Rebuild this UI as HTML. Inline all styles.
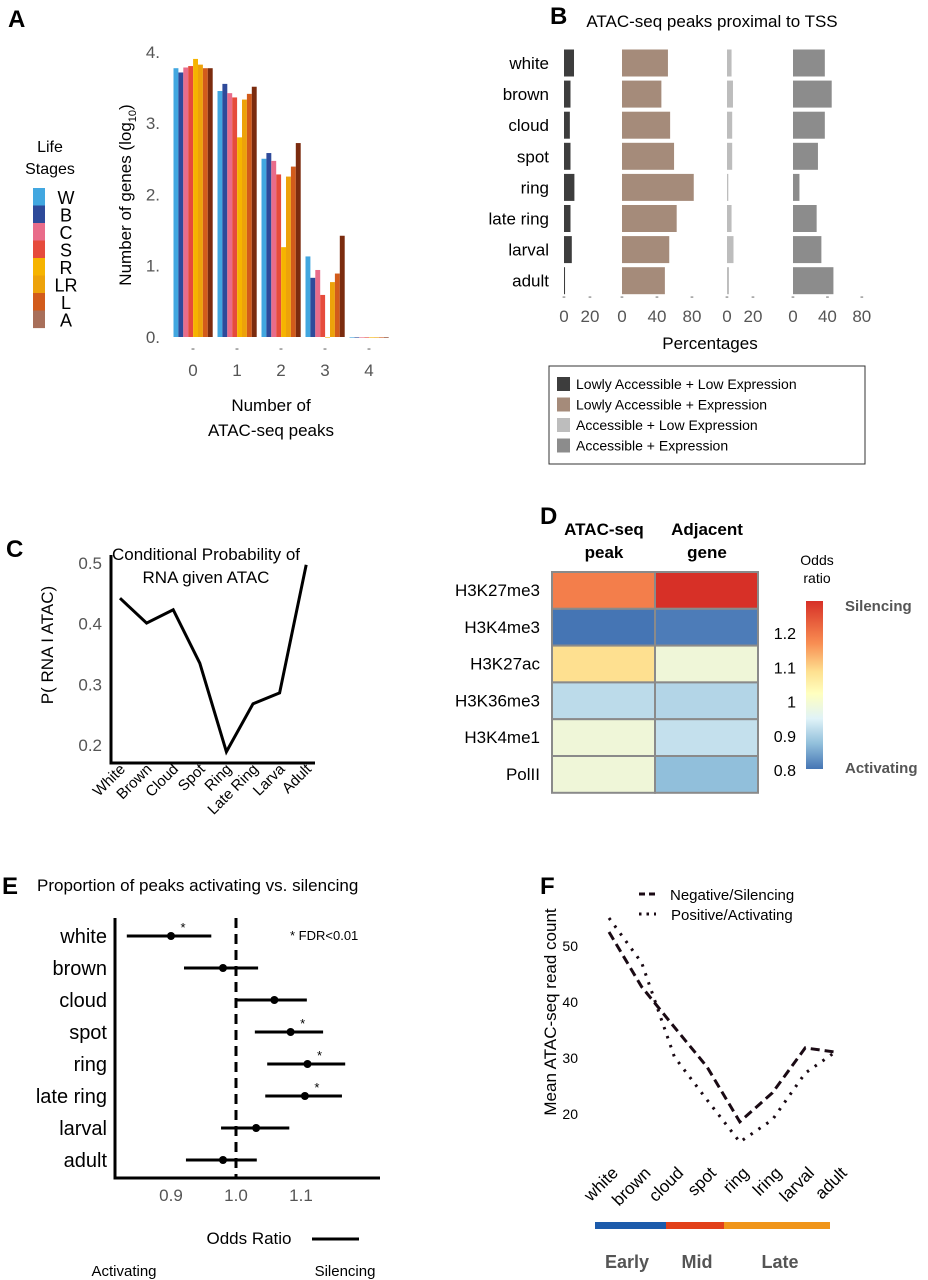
<!DOCTYPE html>
<html><head><meta charset="utf-8"><style>
html,body{margin:0;padding:0;background:#fff}
svg{display:block;font-family:"Liberation Sans",Arial,sans-serif}
</style></head><body>
<svg id="fig" width="928" height="1280" viewBox="0 0 928 1280">
<g id="pA">
<text x="8" y="27" font-size="24" font-weight="bold">A</text>
<text x="50" y="152" font-size="16" text-anchor="middle">Life</text>
<text x="50" y="174" font-size="16" text-anchor="middle">Stages</text>
<text transform="translate(131,195) rotate(-90)" font-size="17" text-anchor="middle">Number of genes (log<tspan font-size="11" dy="5">10</tspan><tspan dy="-5">)</tspan></text>
<text x="271" y="411" font-size="17" text-anchor="middle">Number of</text>
<text x="271" y="436" font-size="17" text-anchor="middle">ATAC-seq peaks</text>
</g>
<g id="pB">
<text x="550" y="24" font-size="24" font-weight="bold">B</text>
<text x="712" y="27" font-size="17" text-anchor="middle">ATAC-seq peaks proximal to TSS</text>
<text x="710" y="349" font-size="17" text-anchor="middle">Percentages</text>
<rect x="549" y="366" width="316" height="98" fill="#fff" stroke="#333" stroke-width="1"/>
</g>
<g id="pC">
<text x="6" y="557" font-size="24" font-weight="bold">C</text>
<text x="206" y="560" font-size="17" text-anchor="middle">Conditional Probability of</text>
<text x="206" y="583" font-size="17" text-anchor="middle">RNA given ATAC</text>
<text transform="translate(53,645) rotate(-90)" font-size="17" text-anchor="middle">P( RNA I ATAC)</text>
</g>
<g id="pD">
<text x="540" y="524" font-size="24" font-weight="bold">D</text>
<text x="604" y="535" font-size="17" font-weight="bold" text-anchor="middle">ATAC-seq</text>
<text x="604" y="558" font-size="17" font-weight="bold" text-anchor="middle">peak</text>
<text x="707" y="535" font-size="17" font-weight="bold" text-anchor="middle">Adjacent</text>
<text x="707" y="558" font-size="17" font-weight="bold" text-anchor="middle">gene</text>
<text x="817" y="565" font-size="14" text-anchor="middle">Odds</text>
<text x="817" y="583" font-size="14" text-anchor="middle">ratio</text>
<defs><linearGradient id="cb" x1="0" y1="0" x2="0" y2="1">
<stop offset="0" stop-color="#d73027"/><stop offset="0.25" stop-color="#f88d52"/><stop offset="0.42" stop-color="#fee090"/><stop offset="0.55" stop-color="#ffffbf"/><stop offset="0.7" stop-color="#e0f3f8"/><stop offset="0.85" stop-color="#91bfdb"/><stop offset="1" stop-color="#4575b4"/></linearGradient></defs>
<rect x="806" y="601" width="17" height="168" fill="url(#cb)"/>
<text x="845" y="611" font-size="15" font-weight="bold" fill="#555">Silencing</text>
<text x="845" y="773" font-size="15" font-weight="bold" fill="#555">Activating</text>
</g>
<g id="pE">
<text x="2" y="894" font-size="24" font-weight="bold">E</text>
<text x="37" y="891" font-size="17">Proportion of peaks activating vs. silencing</text>
<text x="290" y="940" font-size="13">* FDR&lt;0.01</text>
<text x="249" y="1244" font-size="17" text-anchor="middle">Odds Ratio</text>
<line x1="312" y1="1239" x2="359" y2="1239" stroke="#000" stroke-width="3"/>
<text x="124" y="1276" font-size="15" text-anchor="middle">Activating</text>
<text x="345" y="1276" font-size="15" text-anchor="middle">Silencing</text>
</g>
<g id="pF">
<text x="540" y="894" font-size="24" font-weight="bold">F</text>
<text transform="translate(556,1012) rotate(-90)" font-size="17" text-anchor="middle">Mean ATAC-seq read count</text>
<line x1="639" y1="894" x2="656" y2="894" stroke="#1a0a14" stroke-width="3" stroke-dasharray="6,4"/>
<line x1="639" y1="914" x2="656" y2="914" stroke="#1a0a14" stroke-width="3" stroke-dasharray="2.5,5"/>
<text x="670" y="900" font-size="15">Negative/Silencing</text>
<text x="671" y="920" font-size="15">Positive/Activating</text>
<rect x="595" y="1222" width="71" height="7" fill="#1c5bab"/>
<rect x="666" y="1222" width="58" height="7" fill="#e2401a"/>
<rect x="724" y="1222" width="106" height="7" fill="#f0951a"/>
<text x="627" y="1268" font-size="18" font-weight="bold" fill="#555" text-anchor="middle">Early</text>
<text x="697" y="1268" font-size="18" font-weight="bold" fill="#555" text-anchor="middle">Mid</text>
<text x="780" y="1268" font-size="18" font-weight="bold" fill="#555" text-anchor="middle">Late</text>
</g>
</svg>
<script>
// ---- Panel A data ----
const aGroups = ["0","1","2","3","4"];
const aStages = ["W","B","C","S","R","LR","L","A"];
const aColors = ["#42a7e0","#2e4a9a","#e96c8a","#e64b3c","#f6b400","#eda20a","#d25b1b","#7b2b0e"];
const aLegendColors = ["#42a7e0","#2e4a9a","#e96c8a","#e64b3c","#f6b400","#eda20a","#d25b1b","#a86f5a"];
const aVals0 = [3.77,3.71,3.78,3.80,3.90,3.82,3.77,3.77];
const aVals1 = [3.45,3.55,3.42,3.36,2.80,3.33,3.41,3.51];
const aVals2 = [2.50,2.58,2.47,2.28,1.26,2.25,2.39,2.72];
const aVals3 = [1.13,0.83,0.94,0.59,0.00,0.77,0.89,1.42];
const aVals4 = [0,0,0,0,0,0,0,0];
const aYTicks = [0,1,2,3,4];
const aYTickLabels = ["0.","1.","2.","3.","4."];
// ---- Panel B data ----
const bRows = ["white","brown","cloud","spot","ring","late ring","larval","adult"];
const bLowLow = [7.7,5,4.5,5,8,5,6,0.8];
const bLowExpr = [52.5,45,55,59.5,82,62.5,54,49];
const bAccLow = [3.5,4.6,4,4,1,3.5,5,1.5];
const bAccExpr = [37,45,37,29,7.5,27.5,33,47];
const bLegend = ["Lowly Accessible + Low Expression","Lowly Accessible + Expression","Accessible + Low Expression","Accessible + Expression"];
// ---- Panel C data ----
const cCats = ["White","Brown","Cloud","Spot","Ring","Late Ring","Larva","Adult"];
const cVals = [0.442,0.401,0.423,0.335,0.189,0.268,0.286,0.497];
const cTicks = [0.2,0.3,0.4,0.5];
// ---- Panel D data ----
const dRows = ["H3K27me3","H3K4me3","H3K27ac","H3K36me3","H3K4me1","PolII"];
const dPeak = [1.17,0.75,1.07,0.9,0.97,0.97];
const dGene = [1.27,0.76,0.97,0.89,0.91,0.85];
const dTicks = [0.8,0.9,1,1.1,1.2];
// ---- Panel E data ----
const eRows = ["white","brown","cloud","spot","ring","late ring","larval","adult"];
const eOR = [0.900,0.980,1.059,1.084,1.110,1.106,1.031,0.980];
const eLo = [0.832,0.920,1.000,1.029,1.048,1.045,0.977,0.923];
const eHi = [0.962,1.034,1.109,1.134,1.168,1.163,1.082,1.032];
const eSig = [true,false,false,true,true,true,false,false];
const eTicks = [0.9,1.0,1.1];
// ---- Panel F data ----
const fCats = ["white","brown","cloud","spot","ring","lring","larval","adult"];
const fNeg = [52.5,42.7,35.5,28.4,18.6,23.8,31.8,31.0];
const fPos = [55,47,30.2,22.5,15,19,27.3,31.4];
const fTicks = [20,30,40,50];

const NS="http://www.w3.org/2000/svg";
function mk(parent,tag,attrs,text){const e=document.createElementNS(NS,tag);for(const k in attrs)e.setAttribute(k,attrs[k]);if(text!==undefined)e.textContent=text;parent.appendChild(e);return e;}

// Panel A
(function(){
 const g=document.getElementById('pA');
 const y=v=>337-v*71.3;
 const gx=i=>193+i*44;
 const all=[aVals0,aVals1,aVals2,aVals3,aVals4];
 aYTicks.forEach((t,i)=>{const e=mk(g,'text',{x:160,y:y(t)+6,'font-size':17,fill:'#555','text-anchor':'end'},aYTickLabels[i]);
  
  });
 all.forEach((vals,gi)=>{
  vals.forEach((v,si)=>{
   const r=mk(g,'rect',{x:gx(gi)-19.5+si*4.9,y:y(v),width:4.9,height:Math.max(v*71.3,0.6),fill:aColors[si]});
   
   
  });
  const t=mk(g,'text',{x:gx(gi),y:352,'font-size':12,fill:'#555','text-anchor':'middle'},'-');
  
  
  const l=mk(g,'text',{x:gx(gi),y:376,'font-size':17,fill:'#555','text-anchor':'middle'},aGroups[gi]);
  
  
 });
 aStages.forEach((s,i)=>{
  const r=mk(g,'rect',{x:33,y:188+i*17.5,width:12,height:17.6,fill:aLegendColors[i]});
  
  
  const t=mk(g,'text',{x:66,y:204+i*17.5,'font-size':18,'text-anchor':'middle'},s);
  
  
 });
})();

// Panel B
(function(){
 const g=document.getElementById('pB');
 const ry=i=>63+i*31.1;
 const subs=[{d:bLowLow,x0:564,s:1.3,c:'#3d3d3d',t:[0,20]},{d:bLowExpr,x0:622,s:0.875,c:'#a58b7a',t:[0,40,80]},{d:bAccLow,x0:727,s:1.3,c:'#bdbdbd',t:[0,20]},{d:bAccExpr,x0:793,s:0.86,c:'#8c8c8c',t:[0,40,80]}];
 bRows.forEach((r,i)=>{const t=mk(g,'text',{x:549,y:ry(i)+6,'font-size':17,'text-anchor':'end'},r);
  
  });
 subs.forEach((sp,k)=>{
  sp.d.forEach((v,i)=>{const r=mk(g,'rect',{x:sp.x0,y:ry(i)-13.5,width:v*sp.s,height:27,fill:sp.c});
   
   });
  sp.t.forEach(t=>{
   const m=mk(g,'text',{x:sp.x0+t*sp.s,y:300,'font-size':11,fill:'#555','text-anchor':'middle'},'-');
   
   
   const l=mk(g,'text',{x:sp.x0+t*sp.s,y:322,'font-size':17,fill:'#555','text-anchor':'middle'},String(t));
   
   
  });
 });
 bLegend.forEach((s,i)=>{
  const r=mk(g,'rect',{x:557,y:377+i*20.5,width:13,height:14,fill:subs[i].c});
  
  
  const t=mk(g,'text',{x:576,y:389+i*20.5,'font-size':14},s);
  
  
 });
})();

// Panel C
(function(){
 const g=document.getElementById('pC');
 const y=v=>563+(0.5-v)*607;
 const x=i=>120+i*26.6;
 const ax=mk(g,'path',{d:'M111 555 V763 H315',fill:'none',stroke:'#000','stroke-width':3});
 
 
 cTicks.forEach(t=>{const e=mk(g,'text',{x:102,y:y(t)+6,'font-size':17,fill:'#555','text-anchor':'end'},t.toFixed(1));
  
  });
 const ln=mk(g,'polyline',{points:cVals.map((v,i)=>x(i)+','+y(v)).join(' '),fill:'none',stroke:'#000','stroke-width':3,'stroke-linejoin':'miter'});
 
 
 cCats.forEach((c,i)=>{const t=mk(g,'text',{transform:'translate('+(x(i)+6)+',770) rotate(-45)','font-size':15,'text-anchor':'end'},c);
  
  });
})();

// Panel D
(function(){
 const g=document.getElementById('pD');
 const stops=[[0.75,[69,117,180]],[0.85,[145,191,219]],[0.92,[205,230,240]],[0.97,[239,246,216]],[1.02,[255,255,191]],[1.07,[254,224,144]],[1.15,[248,141,82]],[1.27,[215,48,39]]];
 function col(v){if(v<=stops[0][0])return 'rgb('+stops[0][1]+')';for(let i=1;i<stops.length;i++){if(v<=stops[i][0]){const a=stops[i-1],b=stops[i],f=(v-a[0])/(b[0]-a[0]);return 'rgb('+a[1].map((c,k)=>Math.round(c+(b[1][k]-c)*f)).join(',')+')';}}return 'rgb('+stops[stops.length-1][1]+')';}
 const ry=i=>572+i*36.8;
 dRows.forEach((r,i)=>{
  const a=mk(g,'rect',{x:552,y:ry(i),width:103,height:36.8,fill:col(dPeak[i]),stroke:'#8a8a8a','stroke-width':2});
  
  
  const b=mk(g,'rect',{x:655,y:ry(i),width:103,height:36.8,fill:col(dGene[i]),stroke:'#8a8a8a','stroke-width':2});
  
  
  const t=mk(g,'text',{x:540,y:ry(i)+24,'font-size':17,'text-anchor':'end'},r);
  
  
 });
 dTicks.forEach(t=>{const e=mk(g,'text',{x:796,y:770-(t-0.8)*342+6,'font-size':16,'text-anchor':'end'},String(t));
  
  });
})();

// Panel E
(function(){
 const g=document.getElementById('pE');
 const x=v=>236+(v-1)*650;
 const ry=i=>936+i*32;
 const ax=mk(g,'path',{d:'M115 918 V1178 H380',fill:'none',stroke:'#000','stroke-width':3});
 
 
 const dl=mk(g,'line',{x1:x(1),y1:918,x2:x(1),y2:1178,stroke:'#000','stroke-width':3,'stroke-dasharray':'10,6'});
 
 
 eRows.forEach((r,i)=>{
  const t=mk(g,'text',{x:107,y:ry(i)+7,'font-size':20,'text-anchor':'end'},r);
  
  
  const l=mk(g,'line',{x1:x(eLo[i]),y1:ry(i),x2:x(eHi[i]),y2:ry(i),stroke:'#000','stroke-width':3});
  
  
  const c=mk(g,'circle',{cx:x(eOR[i]),cy:ry(i),r:4,fill:'#000'});
  
  
  if(eSig[i]){const s=mk(g,'text',{x:x(eOR[i])+12,y:ry(i)-4,'font-size':13,'text-anchor':'middle'},'*');
   
   }
 });
 eTicks.forEach(t=>{const e=mk(g,'text',{x:x(t),y:1201,'font-size':17,fill:'#555','text-anchor':'middle'},t.toFixed(1));
  
  });
})();

// Panel F
(function(){
 const g=document.getElementById('pF');
 const y=v=>946+(50-v)*5.6;
 const x=i=>609+i*32.7;
 fTicks.forEach(t=>{const e=mk(g,'text',{x:578,y:y(t)+5,'font-size':14,'text-anchor':'end'},String(t));
  
  });
 const n=mk(g,'polyline',{points:fNeg.map((v,i)=>x(i)+','+y(v)).join(' '),fill:'none',stroke:'#1a0a14','stroke-width':3,'stroke-dasharray':'9,5'});
 
 
 const p=mk(g,'polyline',{points:fPos.map((v,i)=>x(i)+','+y(v)).join(' '),fill:'none',stroke:'#1a0a14','stroke-width':3,'stroke-dasharray':'2.5,7'});
 
 
 fCats.forEach((c,i)=>{const t=mk(g,'text',{transform:'translate('+(x(i)+10)+',1174) rotate(-45)','font-size':17,'text-anchor':'end'},c);
  
  });
})();
</script>
</body></html>
